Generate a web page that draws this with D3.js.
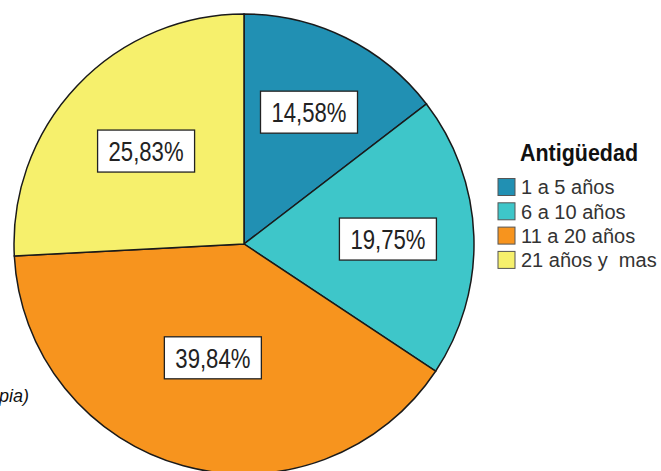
<!DOCTYPE html>
<html><head><meta charset="utf-8">
<script src="https://cdn.jsdelivr.net/npm/d3@7"></script>
<style>body{margin:0;background:#fff}svg{display:block}text{white-space:pre}</style>
</head><body>
<svg id="c" width="661" height="471"></svg>
<script>
const categories = ["1 a 5 años", "6 a 10 años", "11 a 20 años", "21 años y  mas"];
const values = [14.58, 19.75, 39.84, 25.83];
const labels = ["14,58%", "19,75%", "39,84%", "25,83%"];
const colors = ["#2190b3", "#3ec6c9", "#f7941e", "#f6f06c"];
const legendTitle = "Antigüedad";
const footnote = "pia)";

const FONT = "Liberation Sans, Arial, sans-serif";
const NARROW = 0.82;
const svg = d3.select("#c");
const cx = 244, cy = 244, R = 230;
const g = svg.append("g").attr("transform", `translate(${cx},${cy})`);
const pie = d3.pie().sort(null).value(d => d)(values);
const arc = d3.arc().innerRadius(0).outerRadius(R);
g.selectAll("path").data(pie).enter().append("path")
  .attr("d", arc).attr("fill", (d,i) => colors[i])
  .attr("stroke", "#1a1a1a").attr("stroke-width", 1.5);

// label placement radius per slice (layout, not data)
const labelRadius = [147, 144, 118, 135];
const lg = g.selectAll("g.lbl").data(pie).enter().append("g").attr("class","lbl")
  .attr("transform", (d,i) => {
    const c = d3.arc().innerRadius(labelRadius[i]).outerRadius(labelRadius[i]).centroid(d);
    return `translate(${c[0]},${c[1]})`;
  });
lg.append("rect").attr("x",-48.5).attr("y",-21).attr("width",97).attr("height",42)
  .attr("fill","#fff").attr("stroke","#222").attr("stroke-width",1.3);
lg.append("text").attr("text-anchor","middle").attr("dy","0.36em")
  .attr("transform",`scale(${NARROW},1)`)
  .attr("font-family",FONT).attr("font-size",27)
  .attr("fill","#222").text((d,i) => labels[i]);

const leg = svg.append("g").attr("transform","translate(498,0)");
leg.append("text").attr("x",22).attr("y",161).attr("font-family",FONT)
  .attr("font-size",23).attr("font-weight","bold").attr("fill","#111")
  .attr("textLength",118).attr("lengthAdjust","spacingAndGlyphs").text(legendTitle);
const li = leg.selectAll("g.it").data(categories).enter().append("g")
  .attr("transform",(d,i)=>`translate(0,${187 + i*24.3})`);
li.append("rect").attr("x",0).attr("y",-8.5).attr("width",17).attr("height",17)
  .attr("fill",(d,i)=>colors[i]).attr("stroke","#555").attr("stroke-width",1);
li.append("text").attr("x",23).attr("dy","0.36em")
  .attr("font-family",FONT).attr("font-size",20).attr("fill","#333").text(d=>d);

svg.append("text").attr("x",-1).attr("y",402).attr("font-family",FONT)
  .attr("font-size",18).attr("font-style","italic").attr("fill","#111").text(footnote);
</script>
</body></html>
